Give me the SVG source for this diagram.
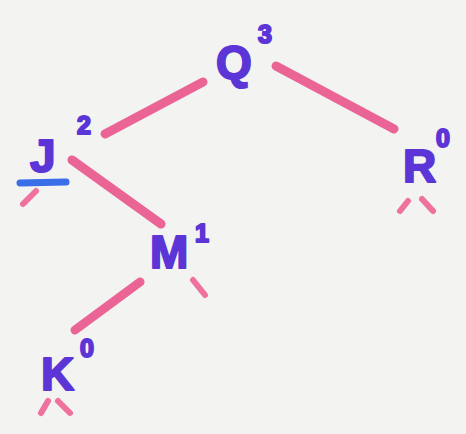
<svg xmlns="http://www.w3.org/2000/svg" width="466" height="434" viewBox="0 0 466 434">
<style>
.edge{stroke:#e9548c;stroke-width:9;stroke-linecap:round;fill:none;opacity:0.9}
.tick{stroke:#ec5a8e;stroke-width:6;stroke-linecap:round;fill:none;opacity:0.85}
.lbl{font-family:"Liberation Sans",Arial,sans-serif;font-weight:bold;fill:#5b35d6;stroke:#5b35d6;stroke-width:2;stroke-linejoin:round}
.big{font-size:46px}
.sup{font-size:25px}
</style>
<rect width="466" height="434" fill="#f3f3f1"/>
<g id="connectors">
<line class="edge" x1="105" y1="134" x2="203" y2="82"/>
<line class="edge" x1="276" y1="66" x2="394" y2="129"/>
<line class="edge" x1="72" y1="160" x2="161" y2="224"/>
<line class="edge" x1="140" y1="282" x2="75" y2="330"/>
</g>
<g id="node-Q">
<text class="lbl big" x="216" y="78">Q</text>
<text class="lbl sup" x="258" y="43">3</text>
</g>
<g id="node-R">
<text class="lbl big" x="403" y="182">R</text>
<text class="lbl sup" x="436" y="147">0</text>
<line class="tick" x1="408" y1="201" x2="400" y2="211"/>
<line class="tick" x1="422" y1="199" x2="433" y2="211"/>
</g>
<g id="node-J">
<text class="lbl big" x="30" y="172">J</text>
<text class="lbl sup" x="77" y="134">2</text>
<line x1="20" y1="183" x2="66" y2="182" stroke="#3a6ee8" stroke-width="7" stroke-linecap="round"/>
<line class="tick" x1="36" y1="191" x2="23" y2="204"/>
</g>
<g id="node-M">
<text class="lbl big" x="150" y="268">M</text>
<text class="lbl sup" x="195" y="242">1</text>
<line class="tick" x1="193" y1="280" x2="205" y2="295"/>
</g>
<g id="node-K">
<text class="lbl big" x="41" y="390">K</text>
<text class="lbl sup" x="80" y="357">0</text>
<line class="tick" x1="48" y1="401" x2="41" y2="413"/>
<line class="tick" x1="58" y1="401" x2="70" y2="413"/>
</g>
</svg>
